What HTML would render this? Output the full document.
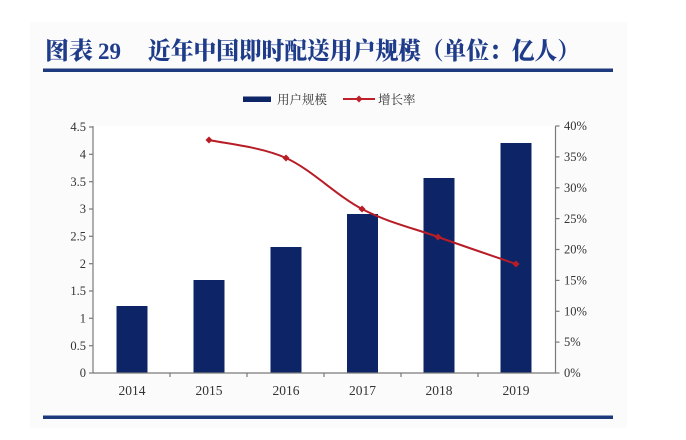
<!DOCTYPE html>
<html>
<head>
<meta charset="utf-8">
<style>
html,body{margin:0;padding:0;background:#fff;}
svg{display:block;}
</style>
</head>
<body>
<svg width="686" height="440" viewBox="0 0 686 440" xmlns="http://www.w3.org/2000/svg">
  <rect x="0" y="0" width="686" height="440" fill="#ffffff"/>
  <rect x="30" y="22" width="597" height="406" fill="#fbfbfc"/>
  <!-- Title -->
  <text x="45" y="59" font-family="'Noto Serif CJK SC','Liberation Serif',serif" font-size="24" font-weight="900" fill="#1f3c8a">图表</text>
  <text x="98" y="59" font-family="'Liberation Serif',serif" font-size="23" font-weight="bold" fill="#1f3c8a">29</text>
  <text x="148" y="59" textLength="432" lengthAdjust="spacingAndGlyphs" font-family="'Liberation Serif','Noto Serif CJK SC',serif" font-size="24" font-weight="900" fill="#1f3c8a">近年中国即时配送用户规模（单位：亿人）</text>
  <rect x="43" y="68.5" width="570" height="3.5" fill="#1d3a7c"/>

  <!-- Legend -->
  <rect x="243" y="96.5" width="28" height="5.5" fill="#0d2566"/>
  <text x="277" y="104" font-family="'Noto Serif CJK SC','Liberation Serif',serif" font-size="12.5" fill="#333">用户规模</text>
  <line x1="343" y1="99" x2="375" y2="99" stroke="#c0202a" stroke-width="2"/>
  <path d="M359 95.5 L362.5 99 L359 102.5 L355.5 99 Z" fill="#c0202a"/>
  <text x="378" y="104" font-family="'Noto Serif CJK SC','Liberation Serif',serif" font-size="12.5" fill="#333">增长率</text>

  <!-- Plot area background -->
  <rect x="93" y="126" width="462" height="247" fill="#ffffff"/>

  <!-- Bars -->
  <g fill="#0d2566">
    <rect x="116.5" y="306" width="31" height="67"/>
    <rect x="193.5" y="280" width="31" height="93"/>
    <rect x="270.5" y="247" width="31" height="126"/>
    <rect x="347" y="214" width="31" height="159"/>
    <rect x="423.5" y="178" width="31" height="195"/>
    <rect x="500.5" y="143" width="31" height="230"/>
  </g>

  <!-- Axes -->
  <g stroke="#7a7a7a" stroke-width="1.2" fill="none">
    <line x1="93" y1="126" x2="93" y2="373.5"/>
    <line x1="555.5" y1="126" x2="555.5" y2="373.5"/>
    <line x1="93" y1="373" x2="556" y2="373"/>
    <line x1="89" y1="373" x2="93" y2="373"/>
    <line x1="89" y1="345.7" x2="93" y2="345.7"/>
    <line x1="89" y1="318.3" x2="93" y2="318.3"/>
    <line x1="89" y1="291" x2="93" y2="291"/>
    <line x1="89" y1="263.7" x2="93" y2="263.7"/>
    <line x1="89" y1="236.3" x2="93" y2="236.3"/>
    <line x1="89" y1="209" x2="93" y2="209"/>
    <line x1="89" y1="181.7" x2="93" y2="181.7"/>
    <line x1="89" y1="154.3" x2="93" y2="154.3"/>
    <line x1="89" y1="127" x2="93" y2="127"/>
    <line x1="555.5" y1="373" x2="559.5" y2="373"/>
    <line x1="555.5" y1="342.1" x2="559.5" y2="342.1"/>
    <line x1="555.5" y1="311.3" x2="559.5" y2="311.3"/>
    <line x1="555.5" y1="280.4" x2="559.5" y2="280.4"/>
    <line x1="555.5" y1="249.5" x2="559.5" y2="249.5"/>
    <line x1="555.5" y1="218.6" x2="559.5" y2="218.6"/>
    <line x1="555.5" y1="187.8" x2="559.5" y2="187.8"/>
    <line x1="555.5" y1="156.9" x2="559.5" y2="156.9"/>
    <line x1="555.5" y1="126" x2="559.5" y2="126"/>
    <line x1="170" y1="373" x2="170" y2="377"/>
    <line x1="247" y1="373" x2="247" y2="377"/>
    <line x1="324" y1="373" x2="324" y2="377"/>
    <line x1="401" y1="373" x2="401" y2="377"/>
    <line x1="478" y1="373" x2="478" y2="377"/>
  </g>

  <!-- Left labels -->
  <g font-family="'Liberation Serif',serif" font-size="12.5" fill="#333" text-anchor="end">
    <text x="86" y="377">0</text>
    <text x="86" y="350">0.5</text>
    <text x="86" y="322.5">1</text>
    <text x="86" y="295">1.5</text>
    <text x="86" y="268">2</text>
    <text x="86" y="240.5">2.5</text>
    <text x="86" y="213">3</text>
    <text x="86" y="186">3.5</text>
    <text x="86" y="158.5">4</text>
    <text x="86" y="131">4.5</text>
  </g>
  <!-- Right labels -->
  <g font-family="'Liberation Serif',serif" font-size="12.5" fill="#333">
    <text x="564" y="377">0%</text>
    <text x="564" y="346">5%</text>
    <text x="564" y="315.5">10%</text>
    <text x="564" y="284.5">15%</text>
    <text x="564" y="253.5">20%</text>
    <text x="564" y="223">25%</text>
    <text x="564" y="192">30%</text>
    <text x="564" y="161">35%</text>
    <text x="564" y="130">40%</text>
  </g>
  <!-- X labels -->
  <g font-family="'Liberation Serif',serif" font-size="13.5" fill="#333" text-anchor="middle">
    <text x="132" y="395">2014</text>
    <text x="209" y="395">2015</text>
    <text x="286" y="395">2016</text>
    <text x="362.5" y="395">2017</text>
    <text x="439" y="395">2018</text>
    <text x="516" y="395">2019</text>
  </g>

  <!-- Growth line -->
  <path d="M209 140 C221.8 143 260.5 146.5 286 158 C311.5 169.5 336.7 195.8 362 209 C387.3 222.2 412.3 227.8 438 237 C463.7 246.2 503 259.5 516 264" fill="none" stroke="#b81c26" stroke-width="2"/>
  <g fill="#b81c26">
    <path d="M209 136.5 L212.5 140 L209 143.5 L205.5 140 Z"/>
    <path d="M286 154.5 L289.5 158 L286 161.5 L282.5 158 Z"/>
    <path d="M362 205.5 L365.5 209 L362 212.5 L358.5 209 Z"/>
    <path d="M438 233.5 L441.5 237 L438 240.5 L434.5 237 Z"/>
    <path d="M516 260.5 L519.5 264 L516 267.5 L512.5 264 Z"/>
  </g>

  <!-- Bottom rule -->
  <rect x="43" y="415.5" width="570" height="3.5" fill="#1d3a7c"/>
</svg>
</body>
</html>
